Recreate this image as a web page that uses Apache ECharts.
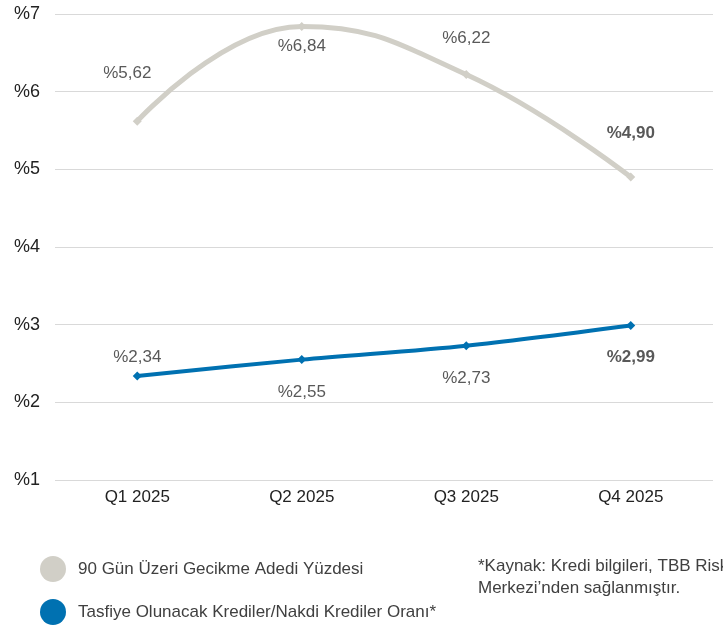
<!DOCTYPE html>
<html><head><meta charset="utf-8">
<script src="https://cdn.jsdelivr.net/npm/echarts@6/dist/echarts.min.js"></script>
<style>html,body{margin:0;padding:0;background:#fff}#c{width:723px;height:628px}</style>
</head><body><div id="c"></div>
<script>
var categories = ['Q1 2025','Q2 2025','Q3 2025','Q4 2025'];
var gecikme = [5.62, 6.84, 6.22, 4.90];
var tasfiye = [2.34, 2.55, 2.73, 2.99];
var seriesNames = ['90 Gün Üzeri Gecikme Adedi Yüzdesi','Tasfiye Olunacak Krediler/Nakdi Krediler Oranı*'];
var yTicks = [1,2,3,4,5,6,7];
var footnote = ['*Kaynak: Kredi bilgileri, TBB Risk','Merkezi\u2019nden sağlanmıştır.'];

var FONT = 'Liberation Sans, Arial, sans-serif';
var grayLabelPos = [[-10,-48],[0,20],[0,-36],[0,-44]];
var blueLabelPos = [[0,-19],[0,33],[0,33],[0,32]];

function fmt(v){ return '%' + v.toFixed(2).replace('.', ','); }
function build(vals, offs){
  return vals.map(function(v,i){
    return {value:v, label:{show:true, position:'inside', offset:offs[i],
      formatter: fmt(v), fontSize:17, color:'#595959', fontFamily:FONT,
      fontWeight: i===vals.length-1 ? 'bold' : 'normal'}};
  });
}
function legendFor(name, top){
  return {orient:'vertical', left:40, top:top, padding:0, icon:'circle', itemWidth:26, itemHeight:26,
    textStyle:{fontSize:17, color:'#404040', fontFamily:FONT, padding:[0,0,0,7]},
    data:[name]};
}

var chart = echarts.init(document.getElementById('c'));
chart.setOption({
  animation:false,
  grid:{left:55, right:10, top:14, bottom:148, containLabel:false},
  xAxis:{type:'category', data:categories, boundaryGap:true,
    axisLine:{show:false}, axisTick:{show:false},
    axisLabel:{fontSize:17, color:'#222', margin:9, fontFamily:FONT}},
  yAxis:{type:'value', min:1, max:7, interval:1,
    axisLine:{show:false}, axisTick:{show:false},
    splitLine:{lineStyle:{color:'#d9d9d9', width:1}},
    axisLabel:{fontSize:18, color:'#222', margin:15, formatter:function(v){return '%'+v;}, fontFamily:FONT}},
  legend:[legendFor(seriesNames[0], 556), legendFor(seriesNames[1], 599)],
  graphic:[{type:'text', left:478, top:555, style:{text:footnote.join('\n'), fontSize:17, lineHeight:22, fill:'#404040', fontFamily:FONT}}],
  series:[
    {name:seriesNames[0], type:'line', smooth:0.45, data:build(gecikme, grayLabelPos),
      color:'#d1cfc7', lineStyle:{width:5, color:'#d1cfc7'}, symbol:'diamond', symbolSize:9,
      itemStyle:{color:'#d1cfc7'}},
    {name:seriesNames[1], type:'line', smooth:0.3, data:build(tasfiye, blueLabelPos),
      color:'#0071b1', lineStyle:{width:4, color:'#0071b1'}, symbol:'diamond', symbolSize:9,
      itemStyle:{color:'#0071b1'}}
  ]
});
</script></body></html>
